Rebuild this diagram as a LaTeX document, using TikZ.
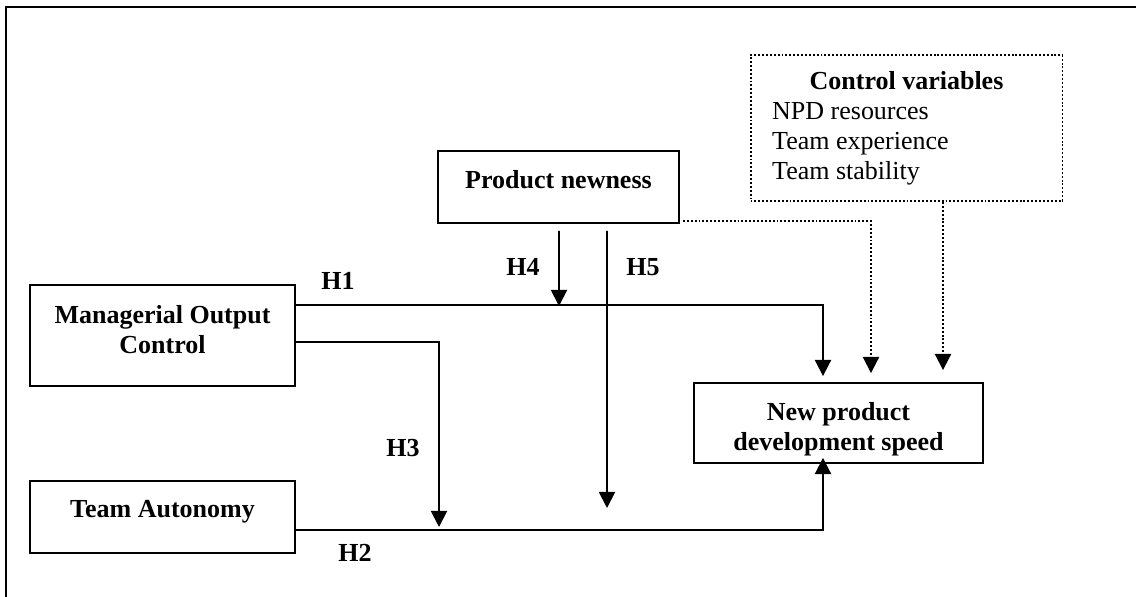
\documentclass[tikz,border=0pt]{standalone}
\usepackage{fontspec}
\setmainfont{Liberation Serif}
\usetikzlibrary{positioning,calc,arrows.meta}

\begin{document}
\begin{tikzpicture}[
    x=0.4616pt, y=-0.4616pt,
    line width=0.9pt,
    every node/.style={font=\fontsize{12}{13.8}\selectfont\bfseries, align=center, inner sep=0pt},
    box/.style={rectangle, draw, minimum width=#1},
    lift/.style={text height=9pt, text depth=8pt},
    ctrl/.style={rectangle, draw, dash pattern=on 0.9pt off 0.9pt},
    link/.style={-{Triangle[length=7.5pt,width=7.5pt]}},
    dots/.style={dash pattern=on 0.9pt off 0.9pt, -{Triangle[length=7.5pt,width=7.5pt]}}
]
\useasboundingbox (0,0) rectangle (1136,597);

% Frame
\draw (6,597) -- (6,7) -- (1136,7);

% Nodes
\node[box=122.3pt, minimum height=46.6pt, text depth=5.6pt] (moc) at (162.5,335.5) {Managerial Output\\Control};
\node[box=122.3pt, minimum height=33.2pt, lift, below=42.9pt of moc] (autonomy) {Team Autonomy};
\node[box=111.2pt, minimum height=33.2pt, lift] (newness) at (558.5,187) {Product newness};
\node[box=133.4pt, minimum height=36.9pt, text height=27.9pt] (speed) at (838.5,423) {New product\\development speed};
\node[ctrl, text width=124pt, inner xsep=10pt, minimum height=67.4pt, align=flush left,
      font=\fontsize{12}{13.8}\selectfont] (controls) at (906.5,128)
      {\spaceskip=0pt\xspaceskip=0pt{\centering\textbf{Control variables}\par}NPD resources\\Team experience\\Team stability};

% Moderation points
\coordinate (mod3) at (439,527);
\coordinate (mod4) at (559,306);
\coordinate (mod5) at (607,508);

% Solid arrows (hypotheses)
\draw[link] ($(moc.north east)+(0,21)$) -| ($(speed.north)+(-15.5,-6)$);
\draw[link] ($(moc.north east)+(0,58)$) -| (mod3);
\draw[link] ($(autonomy.south east)+(0,-24)$) -| ($(speed.south)+(-15.5,-6)$);
\draw[link] ($(newness.south)+(0.5,7)$) -- (mod4);
\draw[link] ($(newness.south)+(48.5,7)$) -- (mod5);

% Dotted arrows (controls)
\draw[dots] ($(newness.south east)+(3,-3)$) -| ($(speed.north)+(32.5,-9)$);
\draw[dots] ($(controls.south)+(36.5,0)$) -- ($(speed.north)+(104.5,-12)$);

% Labels
\node (h1) at (338,281) {H1};
\node (h2) at (355,553) {H2};
\node (h3) at (403,448) {H3};
\node (h4) at (523,267) {H4};
\node (h5) at (643,267) {H5};

\end{tikzpicture}
\end{document}
